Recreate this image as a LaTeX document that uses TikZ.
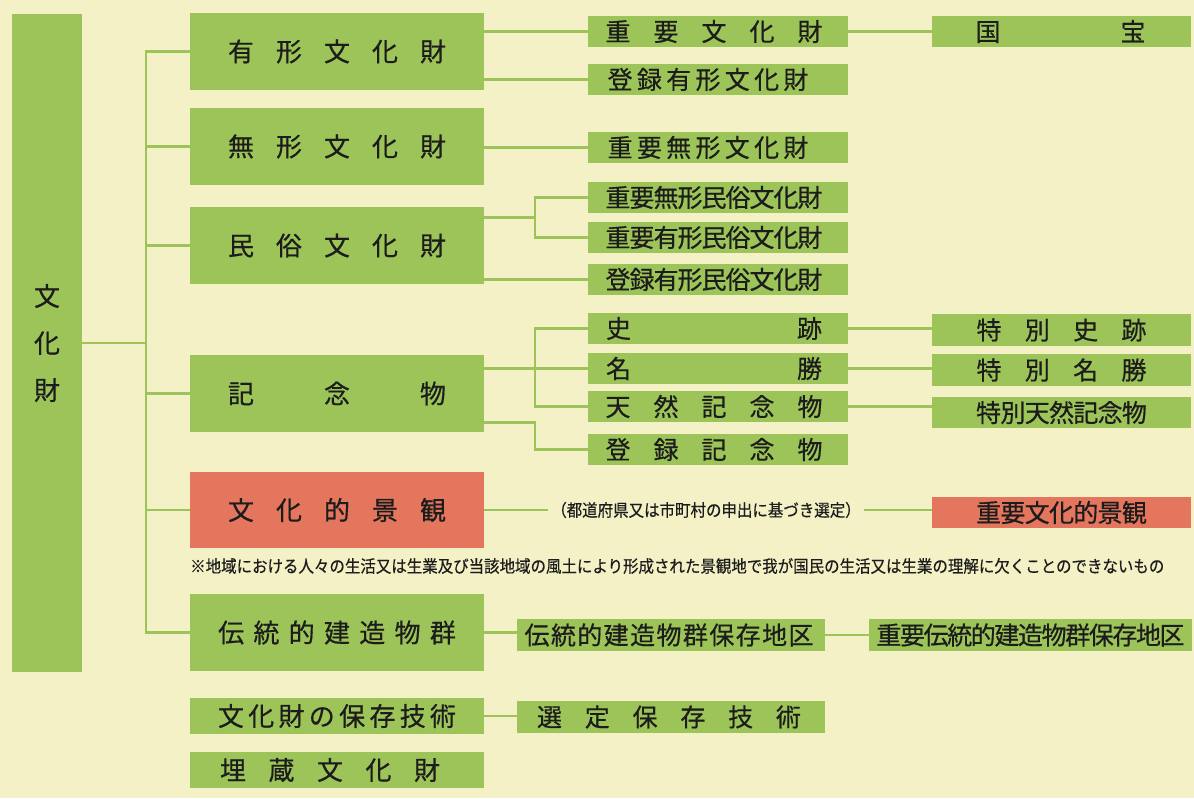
\documentclass[tikz,border=0pt]{standalone}
\usepackage{fontspec}
\usepackage{graphicx}
\newfontfamily\jp[FakeBold=0.5]{Noto Sans CJK JP}
\usetikzlibrary{calc}
\definecolor{bg}{RGB}{243,241,197}
\definecolor{gbox}{RGB}{157,196,88}
\definecolor{rbox}{RGB}{227,118,92}
\definecolor{ink}{RGB}{28,28,28}
% \spc{shift}{pitch}{text}: evenly spaced characters, zero width, centre moved by shift
\newcommand\spc[3]{\def\spcpitch{#2}\makebox[0pt][c]{\hspace*{#1}\hspace*{#1}\spcloop#3\relax}}
\def\spcloop#1{\ifx\relax#1\else\makebox[\spcpitch][c]{#1}\expandafter\spcloop\fi}
\newcommand\bx[7]{\node[#6, minimum width={#4-#2}, minimum height={#5-#3}] (#1) at ({(#2+#4)/2},{-(#3+#5)/2}) {#7};}
\begin{document}
\begin{tikzpicture}[x=1pt,y=1pt,
  gb/.style={fill=gbox, draw=none, inner sep=0pt, text=ink, font=\jp\fontsize{25}{25}\selectfont},
  big/.style={gb, font=\jp\fontsize{26}{26}\selectfont},
  rb/.style={fill=rbox},
  ln/.style={draw=gbox, line width=2.6pt, line join=miter},
  small/.style={inner sep=3pt, text=ink, font=\jp\fontsize{17}{17}\selectfont}]
\fill[bg] (0,0) rectangle (1194,-798);
\useasboundingbox (0,0) rectangle (1194,-798);
% main
\bx{main}{12}{14}{82}{672}{gb, align=center, font=\jp\fontsize{26}{47}\selectfont}{文\\化\\財}
% level 1
\bx{yukei}{190}{13}{484}{90}{big}{\spc{0pt}{48pt}{有形文化財}}
\bx{mukei}{190}{108}{484}{185}{big}{\spc{0pt}{48pt}{無形文化財}}
\bx{minzoku}{190}{207}{484}{284}{big}{\spc{0pt}{48pt}{民俗文化財}}
\bx{kinen}{190}{355}{484}{432}{big}{\spc{0pt}{96pt}{記念物}}
\bx{keikan}{190}{472}{484}{548}{big, rb}{\spc{0pt}{48pt}{文化的景観}}
\bx{dento}{190}{594}{484}{671}{big}{\spc{0pt}{35.3pt}{伝統的建造物群}}
\bx{gijutsu}{190}{698}{484}{734}{big}{\spc{0pt}{30.3pt}{文化財の保存技術}}
\bx{maizo}{190}{752}{484}{788}{big}{\spc{-7pt}{48.5pt}{埋蔵文化財}}
% level 2
\bx{juyo}{588}{16}{848}{47}{gb}{\spc{-4pt}{48pt}{重要文化財}}
\bx{toroku}{588}{64}{848}{95}{gb}{\spc{-10pt}{29.3pt}{登録有形文化財}}
\bx{jmukei}{588}{132}{848}{163}{gb}{\spc{-10pt}{29.3pt}{重要無形文化財}}
\bx{jmm}{588}{182}{848}{213}{gb}{\spc{-4pt}{24pt}{重要無形民俗文化財}}
\bx{jym}{588}{222}{848}{253}{gb}{\spc{-4pt}{24pt}{重要有形民俗文化財}}
\bx{tym}{588}{264}{848}{295}{gb}{\spc{-4pt}{24pt}{登録有形民俗文化財}}
\bx{shiseki}{588}{313}{848}{344}{gb}{\spc{-4pt}{191pt}{史跡}}
\bx{meisho}{588}{353}{848}{384}{gb}{\spc{-4pt}{191pt}{名勝}}
\bx{tennen}{588}{391}{848}{422}{gb}{\spc{-4pt}{48pt}{天然記念物}}
\bx{tkinen}{588}{434}{848}{465}{gb}{\spc{-4pt}{48pt}{登録記念物}}
% level 3
\bx{kokuho}{932}{16}{1191}{47}{gb}{\spc{-1pt}{145pt}{国宝}}
\bx{tshiseki}{932}{314}{1191}{346}{gb}{\spc{0pt}{48.3pt}{特別史跡}}
\bx{tmeisho}{932}{354}{1191}{386}{gb}{\spc{0pt}{48.3pt}{特別名勝}}
\bx{ttennen}{932}{397}{1191}{428}{gb}{\spc{0pt}{24.3pt}{特別天然記念物}}
\bx{jkeikan}{932}{497}{1191}{528}{gb, rb}{\spc{0pt}{24.3pt}{重要文化的景観}}
\bx{hozon}{517}{619}{825}{651}{gb}{\spc{-2pt}{26.4pt}{伝統的建造物群保存地区}}
\bx{jhozon}{869}{619}{1192}{651}{gb}{\spc{0pt}{23.6pt}{重要伝統的建造物群保存地区}}
\bx{sentei}{517}{701}{825}{733}{gb}{\spc{-2pt}{47.8pt}{選定保存技術}}
% texts
\node[small] (senteitxt) at (706,-510) {\scalebox{0.91}[1]{（都道府県又は市町村の申出に基づき選定）}};
\node[small, anchor=west, inner sep=0pt] (note) at (190,-566) {\scalebox{0.91}[1]{※地域における人々の生活又は生業及び当該地域の風土により形成された景観地で我が国民の生活又は生業の理解に欠くことのできないもの}};
% connectors
\coordinate (trunk) at (146,0);
\coordinate (jx) at (535,0);
\draw[ln] (main.east) -- (main.east -| trunk);
\draw[ln] (yukei.west) -- (yukei.west -| trunk) -- (dento.west -| trunk) -- (dento.west);
\draw[ln] (mukei.west -| trunk) -- (mukei.west);
\draw[ln] (minzoku.west -| trunk) -- (minzoku.west);
\draw[ln] (kinen.west -| trunk) -- (kinen.west);
\draw[ln] (keikan.west -| trunk) -- (keikan.west);
\draw[ln] (juyo.west -| yukei.east) -- (juyo.west);
\draw[ln] (toroku.west -| yukei.east) -- (toroku.west);
\draw[ln] (jmukei.west -| mukei.east) -- (jmukei.west);
\coordinate (mzmid) at ($(jmm.west)!0.5!(jym.west)$);
\draw[ln] (mzmid -| minzoku.east) -- (mzmid -| jx);
\draw[ln] (jmm.west) -- (jmm.west -| jx) -- (jym.west -| jx) -- (jym.west);
\draw[ln] (tym.west -| minzoku.east) -- (tym.west);
\draw[ln] (meisho.west -| kinen.east) -- (meisho.west);
\draw[ln] (shiseki.west) -- (shiseki.west -| jx) -- (tennen.west -| jx) -- (tennen.west);
\draw[ln] ($(kinen.south east)+(0,10)$) -| (jx |- tkinen.west) -- (tkinen.west);
\draw[ln] (juyo.east) -- (juyo.east -| kokuho.west);
\draw[ln] (shiseki.east) -- (shiseki.east -| tshiseki.west);
\draw[ln] (meisho.east) -- (meisho.east -| tmeisho.west);
\draw[ln] (tennen.east) -- (tennen.east -| ttennen.west);
\draw[ln] (keikan.east) -- (keikan.east -| senteitxt.west);
\draw[ln] (senteitxt.east) -- (senteitxt.east -| jkeikan.west);
\draw[ln] (dento.east) -- (dento.east -| hozon.west);
\draw[ln] (hozon.east) -- (hozon.east -| jhozon.west);
\draw[ln] (gijutsu.east) -- (gijutsu.east -| sentei.west);
\end{tikzpicture}
\end{document}
